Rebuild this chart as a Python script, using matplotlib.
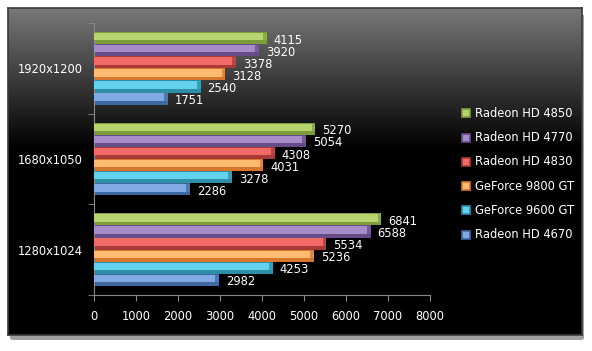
import numpy as np
import matplotlib
matplotlib.use("Agg")
import matplotlib.pyplot as plt
import matplotlib.patches as mpatches

# resolutions, top to bottom
resolutions = ["1920x1200", "1680x1050", "1280x1024"]

# series, top bar to bottom bar within each group
cards = ["Radeon HD 4850", "Radeon HD 4770", "Radeon HD 4830",
         "GeForce 9800 GT", "GeForce 9600 GT", "Radeon HD 4670"]

hd4850 = [4115, 5270, 6841]
hd4770 = [3920, 5054, 6588]
hd4830 = [3378, 4308, 5534]
gf9800 = [3128, 4031, 5236]
gf9600 = [2540, 3278, 4253]
hd4670 = [1751, 2286, 2982]
scores = [hd4850, hd4770, hd4830, gf9800, gf9600, hd4670]

# (light top, dark bottom) for the bevel look
shades = [("#b6d56f", "#7f9c3d"),
          ("#a88bc9", "#674c8a"),
          ("#f26a67", "#a93a37"),
          ("#ffbb72", "#d8772b"),
          ("#62d2ee", "#2d8ea8"),
          ("#82aae2", "#3d68a2")]

W, H = 592, 351
fig = plt.figure(figsize=(W / 100, H / 100), dpi=100)
fig.patch.set_facecolor("white")

# shadow and panel
shadow = mpatches.FancyBboxPatch((10 / W, 11 / H), 574 / W, 326 / H,
                                 boxstyle="round,pad=0,rounding_size=0.006",
                                 transform=fig.transFigure, facecolor="#a0a0a0",
                                 edgecolor="none", zorder=-5)
fig.patches.append(shadow)

bg = fig.add_axes([8 / W, 16 / H, 574 / W, 327 / H], zorder=-1)
grad = np.linspace(0, 1, 256)
shade = np.clip(0.47 * (1 - grad / 0.43), 0, 1)
img = np.repeat(shade[:, None], 2, axis=1)
img = np.dstack([img, img, img])
bg.imshow(img, aspect="auto", extent=[0, 1, 0, 1], origin="upper")
bg.set_xlim(0, 1)
bg.set_ylim(0, 1)
bg.set_xticks([])
bg.set_yticks([])
for s in bg.spines.values():
    s.set_color("#3a3a3a")
    s.set_linewidth(1.2)

ax = fig.add_axes([94 / W, (H - 295) / H, 336 / W, 272 / H])
ax.patch.set_alpha(0)

n = len(cards)
bar_h = 0.8 / n
cap = 90  # bevel width at the bar end, in data units
ycat = np.arange(len(resolutions))
for i, (vals, (light, dark)) in enumerate(zip(scores, shades)):
    yc = ycat - 0.4 + bar_h * (i + 0.5)
    ax.barh(yc, vals, height=bar_h, color=dark, edgecolor="none", zorder=2)
    ax.barh(yc - bar_h * 0.12, vals, height=bar_h * 0.62, color=light,
            edgecolor="none", zorder=3)
    ends = np.array(vals) - cap
    ax.barh(yc, [cap] * len(vals), left=ends, height=bar_h, color=dark,
            alpha=0.75, edgecolor="none", zorder=3.5)
    for y, v in zip(yc, vals):
        ax.annotate(str(v), (v, y), xytext=(5, -1.5), textcoords="offset points",
                    ha="left", va="center", color="white", fontsize=8.3, zorder=4)

ax.set_xlim(0, 8000)
ax.set_ylim(len(resolutions) - 0.5, -0.5)
ax.set_xticks(range(0, 8001, 1000))
ax.set_yticks(ycat)
ax.set_yticklabels(resolutions)
ax.set_yticks(np.arange(-0.5, len(resolutions)), minor=True)
ax.tick_params(axis="y", which="major", length=0, pad=8, labelcolor="white", labelsize=8.3)
ax.tick_params(axis="y", which="minor", length=4, color="#8a8a8a")
ax.tick_params(axis="x", length=4, color="#8a8a8a", pad=7, labelcolor="white", labelsize=8.3)
for side in ["top", "right"]:
    ax.spines[side].set_visible(False)
for side in ["left", "bottom"]:
    ax.spines[side].set_color("#8a8a8a")

# legend
for i, (name, (light, dark)) in enumerate(zip(cards, shades)):
    ypx = 113.5 + i * 24.2
    sq = mpatches.Rectangle((462 / W, (H - ypx - 4) / H), 8 / W, 8 / H,
                            transform=fig.transFigure, facecolor=light,
                            edgecolor=dark, linewidth=1.2, zorder=5)
    fig.patches.append(sq)
    fig.text(475 / W, (H - ypx) / H, name, color="white", fontsize=8.3,
             ha="left", va="center", zorder=6)

fig.savefig("out.png", dpi=100, facecolor="white")
